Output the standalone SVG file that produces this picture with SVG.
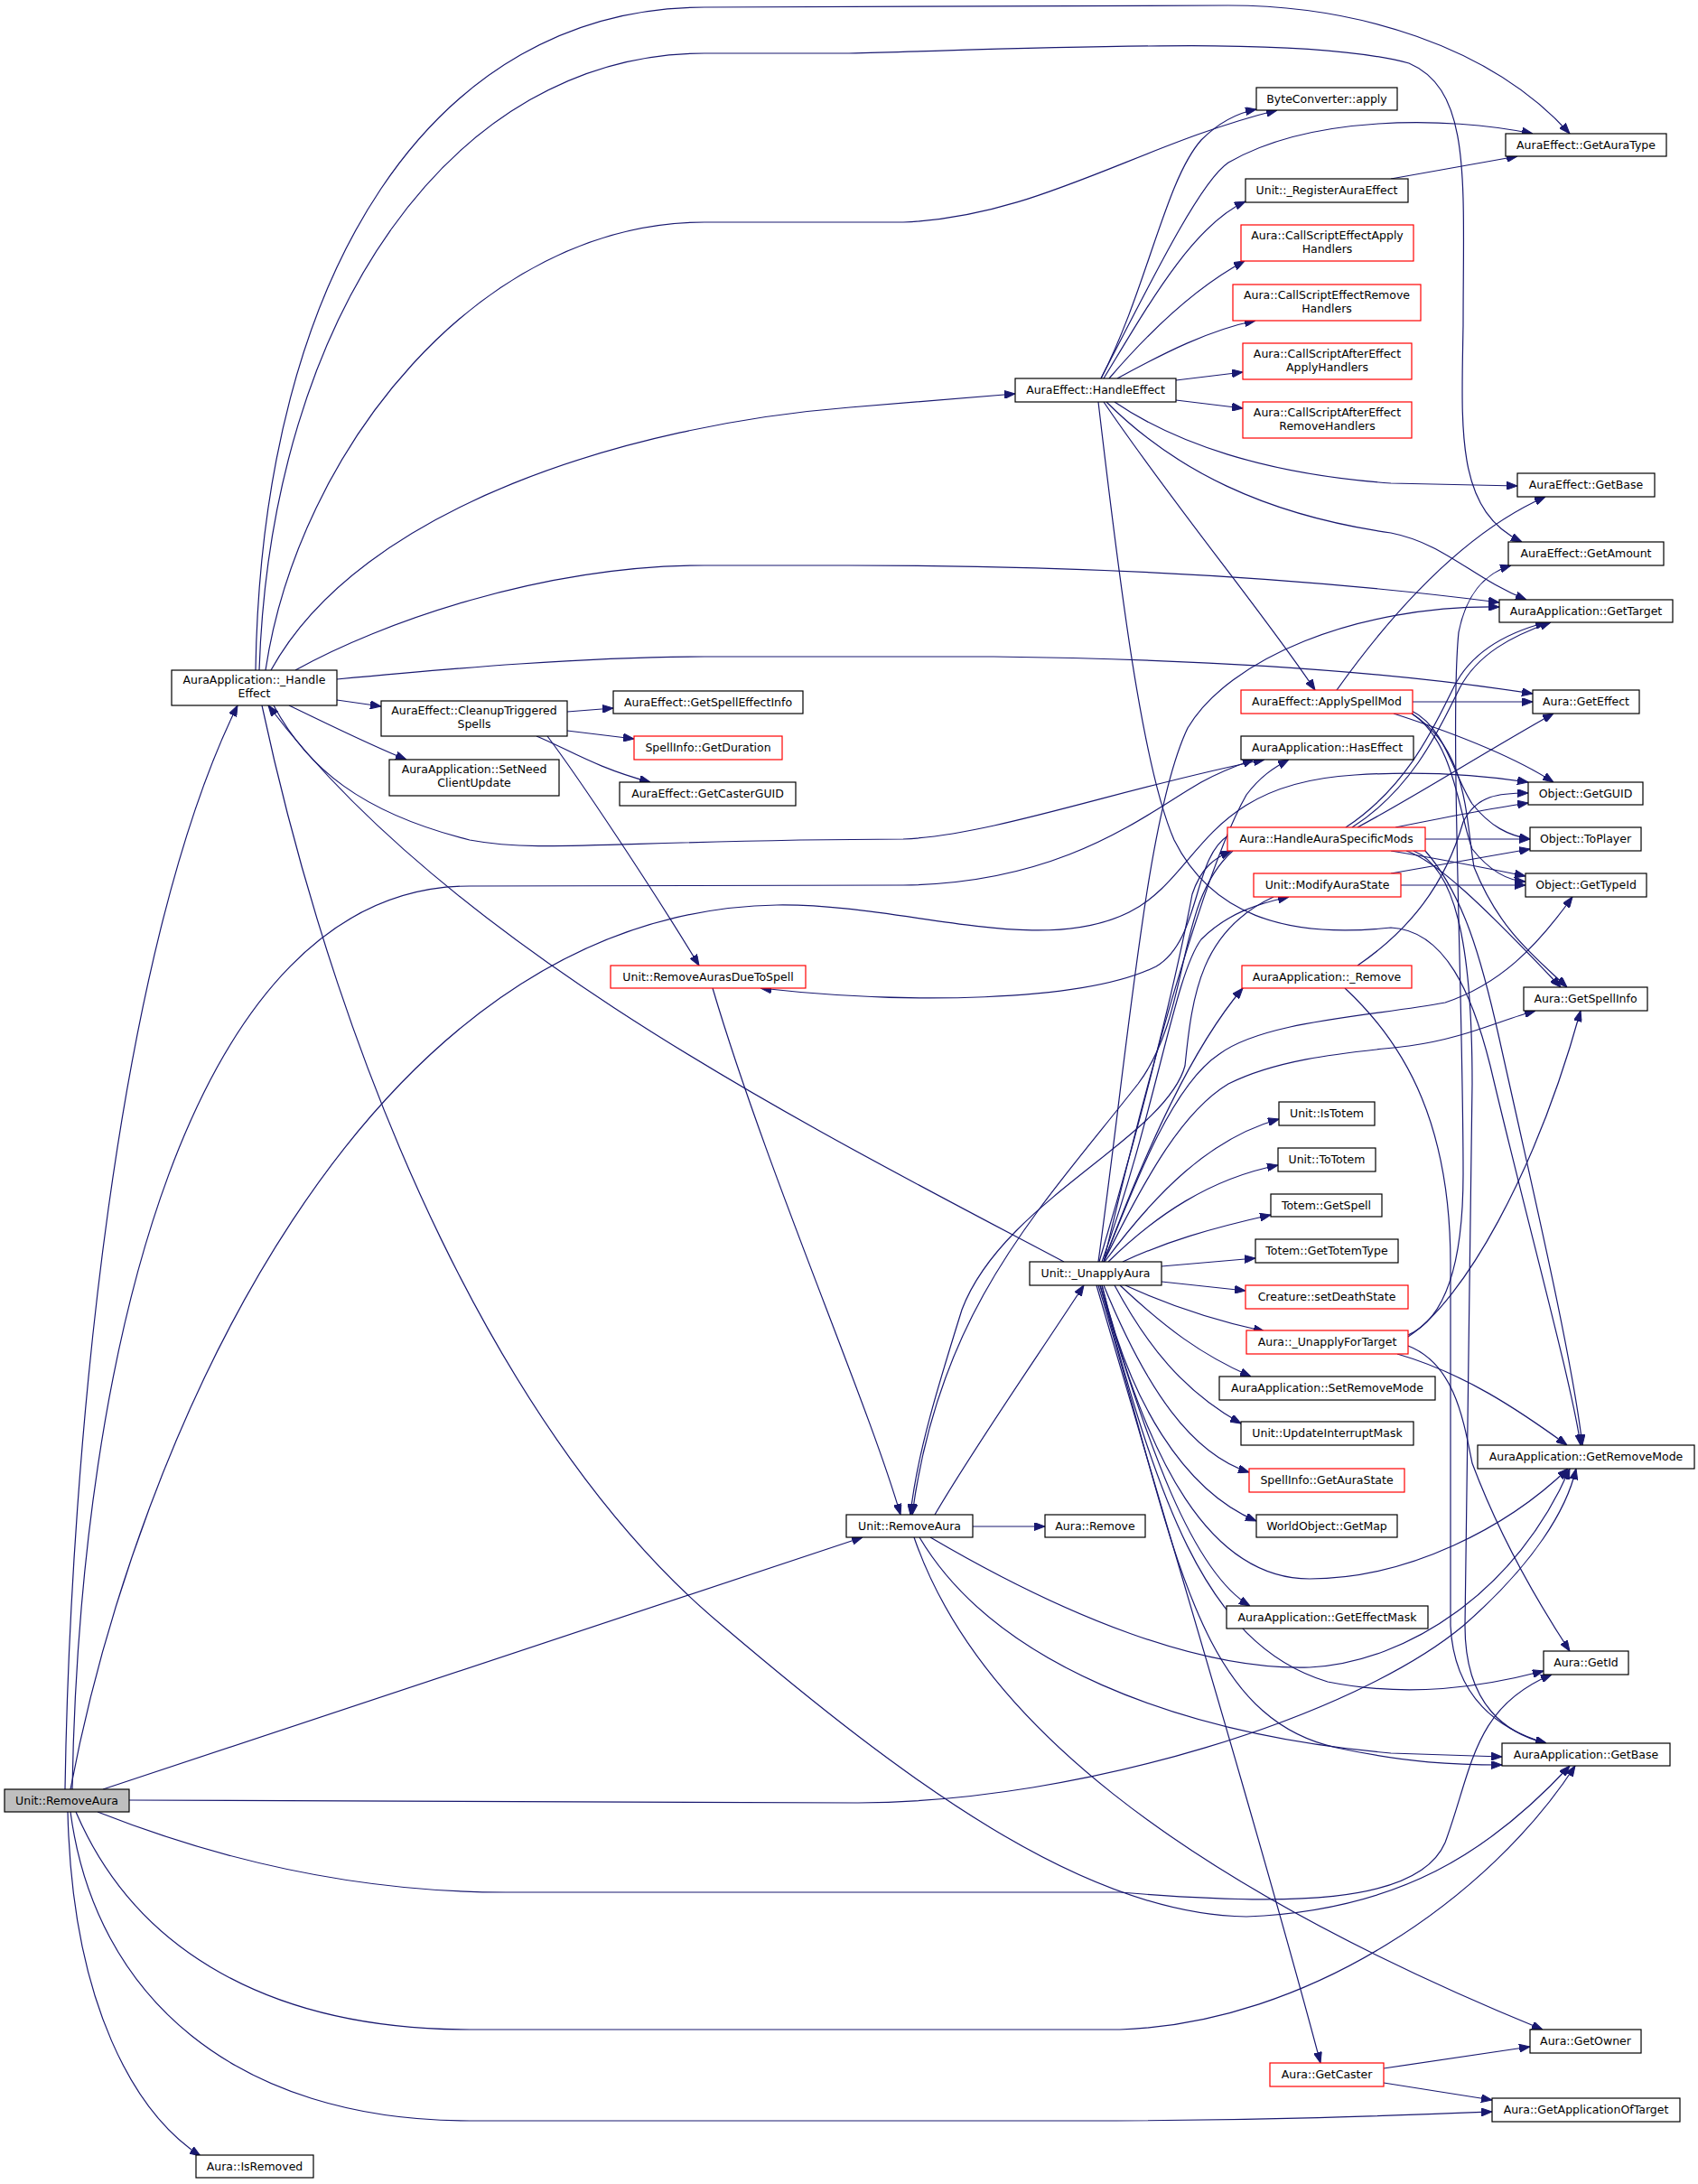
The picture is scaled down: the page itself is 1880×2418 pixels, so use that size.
<svg xmlns="http://www.w3.org/2000/svg" width="1880" height="2418" viewBox="0 0 1880 2418">
<style>
.n rect{fill:#fff;stroke:#000;stroke-width:1.2}
.n.r rect{stroke:#f00}
.n.g rect{fill:#bfbfbf}
text{font-family:"DejaVu Sans","Liberation Sans",sans-serif;font-size:12.5px;text-anchor:middle;fill:#000}
.e path{fill:none;stroke:#191970;stroke-width:1.2;marker-end:url(#a)}
</style>
<defs>
<marker id="a" markerWidth="12" markerHeight="9" refX="12" refY="4.5" orient="auto" markerUnits="userSpaceOnUse"><path d="M0,0 L12,4.5 L0,9 z" fill="#191970" stroke="#191970" stroke-width="1"/></marker>
</defs>
<rect width="1880" height="2418" fill="#fff"/>
<g class="e">
<path d="M72,1981 C78,1600 130,1050 263,781"/>
<path d="M80,1981 C88,1500 210,981 520,981 L1000,980 C1180,978 1270,900 1330,866 C1350,855 1368,848 1388,841"/>
<path d="M78,1981 C150,1600 400,1010 860,1002 C1000,1000 1150,1060 1250,1010 C1330,970 1330,868 1500,858 C1580,853 1640,858 1692,866"/>
<path d="M114,1981 L955,1702"/>
<path d="M143,1993 L950,1996 C1200,1995 1500,1900 1620,1800 C1700,1730 1735,1670 1745,1626"/>
<path d="M108,2006 C250,2062 400,2095 560,2095 L1240,2095 C1420,2110 1570,2110 1600,2040 C1630,1960 1630,1890 1718,1854"/>
<path d="M84,2006 C150,2160 300,2247 520,2247 L1240,2247 C1450,2240 1650,2100 1744,1955"/>
<path d="M78,2006 C105,2210 260,2348 520,2348 L1200,2348 C1400,2348 1550,2342 1652,2338"/>
<path d="M75,2006 C80,2220 150,2340 222,2387"/>
<path d="M283,742 C290,300 480,8 780,8 L1360,6 C1500,6 1650,50 1738,148"/>
<path d="M287,742 C300,350 500,59 780,59 L940,59 C1200,52 1450,40 1560,70 C1630,100 1620,200 1620,360 C1618,480 1612,565 1685,600"/>
<path d="M294,742 C330,500 530,246 780,246 L1000,246 C1150,240 1260,160 1414,122"/>
<path d="M300,742 C400,560 700,470 941,451 L1124,436"/>
<path d="M327,742 C420,690 600,626 780,626 L940,626 C1200,626 1450,640 1660,667"/>
<path d="M373,752 C500,740 650,727 780,727 L1100,727 C1350,730 1550,745 1697,768"/>
<path d="M373,775 L422,782"/>
<path d="M320,781 C370,805 410,825 450,841"/>
<path d="M303,781 C340,850 400,900 520,930 C600,945 680,930 1000,929 C1100,925 1250,870 1400,841"/>
<path d="M290,781 C380,1200 560,1600 800,1800 C1000,1970 1200,2120 1380,2122 C1550,2115 1650,2050 1738,1955"/>
<path d="M628,788 L679,784"/>
<path d="M628,809 L702,818"/>
<path d="M594,815 C630,830 660,850 720,866"/>
<path d="M606,815 C640,860 720,980 774,1069"/>
<path d="M789,1094 C850,1300 960,1550 997,1677"/>
<path d="M1219,419 C1270,320 1290,200 1330,155 C1350,135 1370,125 1391,121"/>
<path d="M1219,419 C1280,300 1330,200 1360,180 C1450,128 1600,128 1697,148"/>
<path d="M1222,419 C1270,340 1320,250 1379,223"/>
<path d="M1228,419 C1270,370 1320,320 1378,289"/>
<path d="M1237,419 C1290,390 1340,365 1390,355"/>
<path d="M1302,421 L1376,412"/>
<path d="M1302,443 L1376,452"/>
<path d="M1540,198 L1680,173"/>
<path d="M1234,445 C1300,490 1400,525 1540,535 L1680,538"/>
<path d="M1225,445 C1300,520 1400,570 1540,590 C1600,602 1630,640 1690,664"/>
<path d="M1222,445 C1300,560 1400,680 1456,764"/>
<path d="M1216,445 C1240,650 1265,850 1300,930 C1340,1010 1420,1040 1540,1027 C1600,1030 1630,1100 1650,1180 C1690,1350 1740,1530 1750,1600"/>
<path d="M1480,764 C1540,680 1620,590 1711,550"/>
<path d="M1564,777 L1697,777"/>
<path d="M1543,790 C1620,815 1680,840 1720,866"/>
<path d="M1563,787 C1600,805 1610,860 1630,890 C1650,915 1670,925 1694,929"/>
<path d="M1563,790 C1610,820 1615,900 1630,940 C1650,965 1670,975 1689,976"/>
<path d="M1563,790 C1625,830 1622,900 1632,960 C1660,1030 1700,1060 1735,1093"/>
<path d="M1490,916 C1560,870 1590,800 1610,760 C1630,720 1670,700 1712,689"/>
<path d="M1497,916 C1566,872 1596,802 1616,762 C1636,724 1674,704 1717,689"/>
<path d="M1503,916 C1570,880 1640,835 1720,790"/>
<path d="M1545,916 C1600,905 1650,895 1692,889"/>
<path d="M1578,929 L1694,929"/>
<path d="M1540,942 C1600,952 1650,962 1689,970"/>
<path d="M1557,942 C1590,953 1640,1000 1728,1093"/>
<path d="M1578,942 C1620,990 1640,1060 1660,1150 C1700,1330 1740,1500 1752,1600"/>
<path d="M1565,942 C1610,960 1630,1040 1630,1200 L1622,1800 C1622,1890 1670,1920 1712,1930"/>
<path d="M1360,925 C1320,950 1330,1040 1280,1070 C1200,1110 1000,1112 842,1094"/>
<path d="M1365,942 C1300,1000 1320,1120 1260,1200 C1150,1340 1040,1450 1010,1677"/>
<path d="M1540,967 L1694,940"/>
<path d="M1551,980 L1689,980"/>
<path d="M1410,993 C1330,1030 1320,1100 1312,1180 C1290,1260 1110,1330 1065,1450 C1040,1530 1015,1610 1008,1677"/>
<path d="M1503,1069 C1560,1030 1600,980 1620,910 C1635,880 1660,878 1692,878"/>
<path d="M1489,1094 C1560,1160 1606,1250 1606,1400 L1606,1800 C1610,1880 1660,1915 1712,1930"/>
<path d="M1178,1397 C900,1250 500,1050 297,781"/>
<path d="M1216,1397 C1250,1150 1270,900 1315,806 C1360,730 1500,670 1660,672"/>
<path d="M1222,1397 C1280,1150 1340,950 1380,880 C1395,860 1410,850 1427,841"/>
<path d="M1217,1397 C1270,1220 1305,1070 1320,990 C1330,960 1345,950 1363,942"/>
<path d="M1220,1397 C1280,1230 1300,1080 1330,1040 C1360,1010 1395,1000 1427,993"/>
<path d="M1222,1397 C1270,1270 1320,1160 1376,1094"/>
<path d="M1222,1397 C1260,1300 1300,1200 1350,1167 C1400,1130 1520,1125 1600,1110 C1660,1090 1700,1050 1741,993"/>
<path d="M1222,1397 C1270,1300 1310,1230 1360,1200 C1420,1170 1500,1165 1560,1158 C1620,1150 1660,1130 1700,1119"/>
<path d="M1223,1397 C1280,1320 1340,1260 1416,1239"/>
<path d="M1227,1397 C1280,1345 1340,1305 1415,1290"/>
<path d="M1243,1397 C1290,1375 1340,1360 1407,1345"/>
<path d="M1286,1402 L1390,1393"/>
<path d="M1286,1419 L1379,1429"/>
<path d="M1246,1423 C1300,1448 1350,1463 1400,1474"/>
<path d="M1240,1423 C1290,1470 1330,1500 1385,1524"/>
<path d="M1234,1423 C1270,1490 1310,1540 1374,1576"/>
<path d="M1222,1423 C1270,1540 1320,1610 1383,1630"/>
<path d="M1220,1423 C1250,1550 1310,1650 1391,1684"/>
<path d="M1218,1423 C1270,1600 1320,1740 1384,1778"/>
<path d="M1220,1423 C1270,1620 1340,1748 1450,1748 C1560,1748 1670,1690 1736,1626"/>
<path d="M1218,1423 C1280,1650 1330,1820 1470,1862 C1560,1880 1640,1868 1709,1850"/>
<path d="M1216,1423 C1300,1700 1320,1900 1480,1935 C1560,1952 1610,1954 1663,1954"/>
<path d="M1214,1423 C1280,1650 1400,2050 1462,2284"/>
<path d="M1559,1480 C1620,1440 1700,1300 1750,1119"/>
<path d="M1559,1478 C1600,1460 1620,1400 1620,1300 C1620,1100 1605,800 1615,700 C1625,650 1650,633 1673,626"/>
<path d="M1547,1499 C1620,1520 1680,1560 1735,1600"/>
<path d="M1559,1490 C1610,1510 1620,1570 1630,1620 C1660,1700 1700,1770 1738,1828"/>
<path d="M1035,1677 C1080,1600 1150,1500 1200,1423"/>
<path d="M1077,1690 L1157,1690"/>
<path d="M1030,1702 C1180,1790 1330,1850 1450,1846 C1560,1840 1680,1760 1738,1626"/>
<path d="M1018,1702 C1100,1840 1300,1920 1540,1941 L1663,1945"/>
<path d="M1012,1702 C1080,1900 1300,2080 1708,2247"/>
<path d="M1532,2290 L1694,2266"/>
<path d="M1532,2306 L1652,2325"/>
</g>
<g id="root" class="n g"><rect x="5" y="1981" width="138" height="25"/><text x="74" y="1998">Unit::RemoveAura</text></g>
<g id="he" class="n"><rect x="190" y="742" width="183" height="39"/><text x="281.5" y="757">AuraApplication::_Handle</text><text x="281.5" y="772">Effect</text></g>
<g id="cts" class="n"><rect x="422" y="776" width="206" height="39"/><text x="525" y="791">AuraEffect::CleanupTriggered</text><text x="525" y="806">Spells</text></g>
<g id="gsei" class="n"><rect x="679" y="765" width="210" height="25"/><text x="784" y="782">AuraEffect::GetSpellEffectInfo</text></g>
<g id="gd" class="n r"><rect x="702" y="815" width="164" height="26"/><text x="784" y="832">SpellInfo::GetDuration</text></g>
<g id="sncu" class="n"><rect x="431" y="841" width="188" height="40"/><text x="525" y="856">AuraApplication::SetNeed</text><text x="525" y="871">ClientUpdate</text></g>
<g id="gcg" class="n"><rect x="686" y="866" width="195" height="26"/><text x="783.5" y="883">AuraEffect::GetCasterGUID</text></g>
<g id="rads" class="n r"><rect x="676" y="1069" width="216" height="25"/><text x="784" y="1086">Unit::RemoveAurasDueToSpell</text></g>
<g id="bca" class="n"><rect x="1391" y="97" width="156" height="25"/><text x="1469" y="114">ByteConverter::apply</text></g>
<g id="gat" class="n"><rect x="1667" y="148" width="178" height="25"/><text x="1756" y="165">AuraEffect::GetAuraType</text></g>
<g id="rae" class="n"><rect x="1379" y="198" width="180" height="26"/><text x="1469" y="215">Unit::_RegisterAuraEffect</text></g>
<g id="cseah" class="n r"><rect x="1374" y="249" width="191" height="40"/><text x="1469.5" y="265">Aura::CallScriptEffectApply</text><text x="1469.5" y="280">Handlers</text></g>
<g id="cserh" class="n r"><rect x="1365" y="315" width="208" height="40"/><text x="1469" y="331">Aura::CallScriptEffectRemove</text><text x="1469" y="346">Handlers</text></g>
<g id="csaeah" class="n r"><rect x="1376" y="380" width="187" height="40"/><text x="1469.5" y="396">Aura::CallScriptAfterEffect</text><text x="1469.5" y="411">ApplyHandlers</text></g>
<g id="csaerh" class="n r"><rect x="1376" y="445" width="187" height="40"/><text x="1469.5" y="461">Aura::CallScriptAfterEffect</text><text x="1469.5" y="476">RemoveHandlers</text></g>
<g id="aehe" class="n"><rect x="1124" y="419" width="178" height="26"/><text x="1213" y="436">AuraEffect::HandleEffect</text></g>
<g id="gb" class="n"><rect x="1680" y="524" width="152" height="26"/><text x="1756" y="541">AuraEffect::GetBase</text></g>
<g id="ga" class="n"><rect x="1670" y="600" width="172" height="26"/><text x="1756" y="617">AuraEffect::GetAmount</text></g>
<g id="gt" class="n"><rect x="1660" y="664" width="192" height="25"/><text x="1756" y="681">AuraApplication::GetTarget</text></g>
<g id="asm" class="n r"><rect x="1374" y="764" width="190" height="26"/><text x="1469" y="781">AuraEffect::ApplySpellMod</text></g>
<g id="ge" class="n"><rect x="1697" y="764" width="118" height="26"/><text x="1756" y="781">Aura::GetEffect</text></g>
<g id="hase" class="n"><rect x="1374" y="815" width="191" height="26"/><text x="1469.5" y="832">AuraApplication::HasEffect</text></g>
<g id="guid" class="n"><rect x="1692" y="866" width="127" height="25"/><text x="1755.5" y="883">Object::GetGUID</text></g>
<g id="hasm" class="n r"><rect x="1359" y="916" width="219" height="26"/><text x="1468.5" y="933">Aura::HandleAuraSpecificMods</text></g>
<g id="tp" class="n"><rect x="1694" y="916" width="123" height="26"/><text x="1755.5" y="933">Object::ToPlayer</text></g>
<g id="mas" class="n r"><rect x="1388" y="967" width="163" height="26"/><text x="1469.5" y="984">Unit::ModifyAuraState</text></g>
<g id="tid" class="n"><rect x="1689" y="967" width="134" height="26"/><text x="1756" y="984">Object::GetTypeId</text></g>
<g id="ar" class="n r"><rect x="1375" y="1069" width="188" height="25"/><text x="1469" y="1086">AuraApplication::_Remove</text></g>
<g id="gsi" class="n"><rect x="1687" y="1093" width="137" height="26"/><text x="1755.5" y="1110">Aura::GetSpellInfo</text></g>
<g id="it" class="n"><rect x="1416" y="1220" width="106" height="26"/><text x="1469" y="1237">Unit::IsTotem</text></g>
<g id="tt" class="n"><rect x="1415" y="1271" width="108" height="26"/><text x="1469" y="1288">Unit::ToTotem</text></g>
<g id="tgs" class="n"><rect x="1407" y="1322" width="123" height="25"/><text x="1468.5" y="1339">Totem::GetSpell</text></g>
<g id="tgtt" class="n"><rect x="1390" y="1372" width="158" height="26"/><text x="1469" y="1389">Totem::GetTotemType</text></g>
<g id="ua" class="n"><rect x="1140" y="1397" width="146" height="26"/><text x="1213" y="1414">Unit::_UnapplyAura</text></g>
<g id="csds" class="n r"><rect x="1379" y="1423" width="180" height="26"/><text x="1469" y="1440">Creature::setDeathState</text></g>
<g id="uft" class="n r"><rect x="1380" y="1473" width="179" height="26"/><text x="1469.5" y="1490">Aura::_UnapplyForTarget</text></g>
<g id="srm" class="n"><rect x="1350" y="1524" width="239" height="26"/><text x="1469.5" y="1541">AuraApplication::SetRemoveMode</text></g>
<g id="uim" class="n"><rect x="1374" y="1574" width="191" height="26"/><text x="1469.5" y="1591">Unit::UpdateInterruptMask</text></g>
<g id="grm" class="n"><rect x="1636" y="1600" width="240" height="26"/><text x="1756" y="1617">AuraApplication::GetRemoveMode</text></g>
<g id="gas" class="n r"><rect x="1383" y="1626" width="172" height="26"/><text x="1469" y="1643">SpellInfo::GetAuraState</text></g>
<g id="ra" class="n"><rect x="937" y="1677" width="140" height="25"/><text x="1007" y="1694">Unit::RemoveAura</text></g>
<g id="arem" class="n"><rect x="1157" y="1677" width="111" height="25"/><text x="1212.5" y="1694">Aura::Remove</text></g>
<g id="wogm" class="n"><rect x="1391" y="1677" width="156" height="25"/><text x="1469" y="1694">WorldObject::GetMap</text></g>
<g id="gem" class="n"><rect x="1358" y="1778" width="223" height="25"/><text x="1469.5" y="1795">AuraApplication::GetEffectMask</text></g>
<g id="gid" class="n"><rect x="1709" y="1828" width="94" height="26"/><text x="1756" y="1845">Aura::GetId</text></g>
<g id="gbase" class="n"><rect x="1663" y="1930" width="186" height="25"/><text x="1756" y="1947">AuraApplication::GetBase</text></g>
<g id="go" class="n"><rect x="1694" y="2247" width="123" height="26"/><text x="1755.5" y="2264">Aura::GetOwner</text></g>
<g id="gc" class="n r"><rect x="1406" y="2284" width="126" height="26"/><text x="1469" y="2301">Aura::GetCaster</text></g>
<g id="gaot" class="n"><rect x="1652" y="2323" width="208" height="26"/><text x="1756" y="2340">Aura::GetApplicationOfTarget</text></g>
<g id="ir" class="n"><rect x="217" y="2386" width="130" height="25"/><text x="282" y="2403">Aura::IsRemoved</text></g>
</svg>
